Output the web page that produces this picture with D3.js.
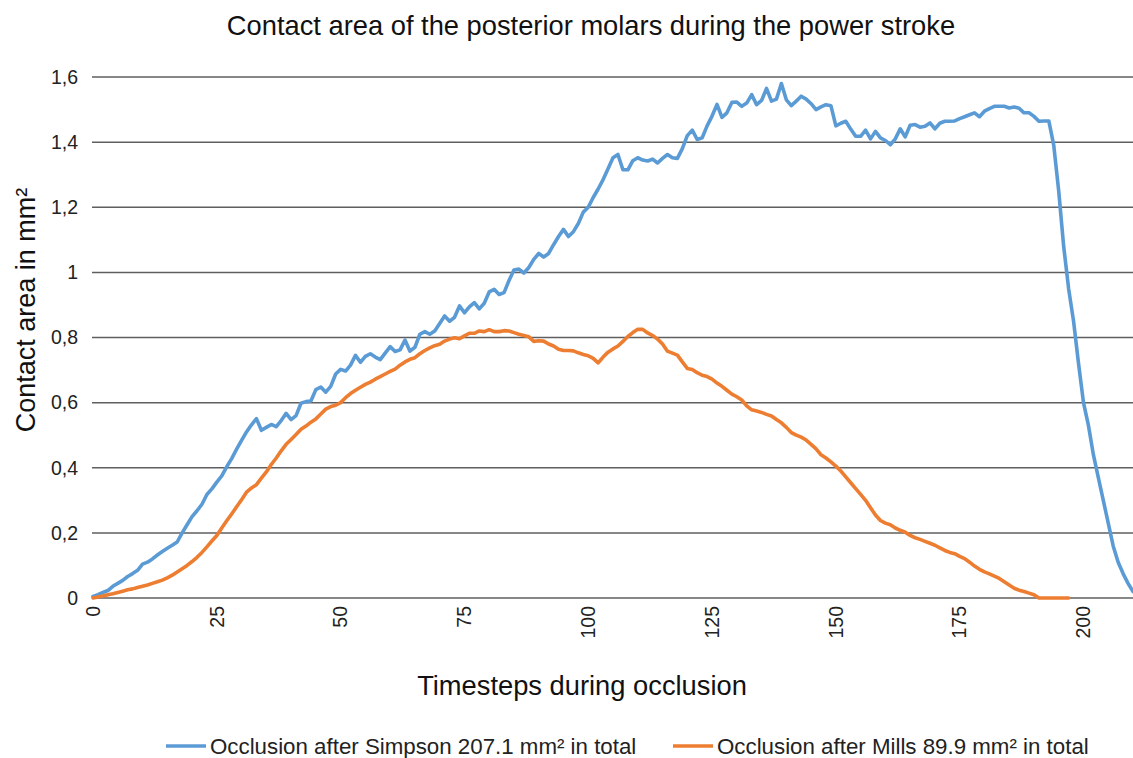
<!DOCTYPE html>
<html>
<head>
<meta charset="utf-8">
<script src="https://cdn.jsdelivr.net/npm/d3@7"></script>
<style>
  html, body { margin: 0; padding: 0; background: #fff; }
  svg { display: block; font-family: "Liberation Sans", Arial, sans-serif; }
</style>
</head>
<body>
<svg id="chart" width="1133" height="758"></svg>
<script>
const title = "Contact area of the posterior molars during the power stroke";
const yTitle = "Contact area in mm²";
const xTitle = "Timesteps during occlusion";
const seriesNames = ["Occlusion after Simpson 207.1 mm² in total", "Occlusion after Mills 89.9 mm² in total"];
const yTicks = [0, 0.2, 0.4, 0.6, 0.8, 1, 1.2, 1.4, 1.6];
const xTicks = [0, 25, 50, 75, 100, 125, 150, 175, 200];

const simpson = [
0.005,0.01,0.017,0.023,0.036,0.045,0.054,0.066,0.075,0.085,
0.104,0.11,0.12,0.132,0.143,0.153,0.162,0.172,0.2,0.225,
0.25,0.268,0.288,0.318,0.335,0.356,0.375,0.403,0.428,0.457,
0.484,0.51,0.532,0.551,0.515,0.524,0.533,0.526,0.545,0.567,
0.548,0.56,0.598,0.603,0.605,0.64,0.648,0.632,0.65,0.688,
0.702,0.697,0.715,0.745,0.724,0.742,0.75,0.74,0.732,0.752,
0.772,0.757,0.762,0.792,0.758,0.77,0.81,0.818,0.81,0.82,
0.843,0.866,0.85,0.862,0.897,0.876,0.894,0.907,0.888,0.905,
0.94,0.948,0.932,0.938,0.975,1.007,1.01,0.998,1.015,1.04,
1.058,1.047,1.058,1.085,1.11,1.132,1.11,1.125,1.15,1.185,
1.2,1.23,1.256,1.285,1.318,1.352,1.362,1.315,1.315,1.343,
1.352,1.345,1.342,1.348,1.336,1.35,1.362,1.352,1.35,1.38,
1.42,1.437,1.408,1.413,1.45,1.48,1.516,1.476,1.49,1.522,
1.523,1.51,1.52,1.546,1.515,1.528,1.565,1.526,1.532,1.58,
1.53,1.512,1.526,1.541,1.532,1.518,1.5,1.508,1.515,1.512,
1.45,1.458,1.464,1.44,1.418,1.418,1.437,1.41,1.433,1.413,
1.405,1.392,1.41,1.441,1.416,1.452,1.454,1.446,1.449,1.459,
1.441,1.458,1.464,1.464,1.465,1.472,1.478,1.484,1.49,1.478,
1.495,1.503,1.51,1.51,1.51,1.505,1.508,1.504,1.49,1.49,
1.479,1.464,1.465,1.465,1.39,1.25,1.08,0.95,0.85,0.72,
0.6,0.53,0.44,0.37,0.3,0.23,0.16,0.11,0.075,0.045,
0.02
];

const mills = [
0,0.003,0.006,0.01,0.013,0.017,0.021,0.025,0.028,0.032,
0.036,0.04,0.045,0.05,0.055,0.062,0.07,0.08,0.09,0.1,
0.112,0.125,0.14,0.157,0.175,0.192,0.215,0.237,0.258,0.28,
0.302,0.325,0.338,0.348,0.368,0.387,0.41,0.43,0.452,0.472,
0.487,0.502,0.518,0.528,0.54,0.55,0.565,0.58,0.588,0.592,
0.6,0.615,0.628,0.638,0.647,0.656,0.663,0.672,0.68,0.688,
0.696,0.703,0.715,0.725,0.733,0.738,0.75,0.76,0.768,0.775,
0.779,0.789,0.795,0.799,0.796,0.805,0.813,0.813,0.82,0.818,
0.824,0.818,0.818,0.821,0.82,0.815,0.81,0.806,0.802,0.788,
0.79,0.789,0.78,0.774,0.764,0.76,0.76,0.759,0.753,0.748,
0.744,0.736,0.722,0.74,0.755,0.765,0.774,0.788,0.803,0.815,
0.825,0.825,0.814,0.806,0.795,0.78,0.758,0.752,0.746,0.725,
0.705,0.702,0.692,0.684,0.68,0.672,0.66,0.65,0.638,0.626,
0.618,0.608,0.59,0.578,0.574,0.57,0.564,0.559,0.548,0.538,
0.524,0.508,0.5,0.494,0.485,0.472,0.458,0.44,0.43,0.418,
0.405,0.39,0.372,0.354,0.336,0.318,0.3,0.277,0.255,0.238,
0.23,0.225,0.215,0.208,0.202,0.192,0.185,0.18,0.174,0.168,
0.162,0.154,0.146,0.14,0.136,0.128,0.121,0.11,0.098,0.088,
0.08,0.074,0.067,0.06,0.05,0.04,0.03,0.024,0.02,0.015,
0.01,0,0,0,0,0,0,0
];

const colors = ["#5B9BD5", "#ED7D31"];

const svg = d3.select("#chart");
const x = d3.scaleLinear().domain([0, 210]).range([93, 1133]);
const y = d3.scaleLinear().domain([0, 1.6]).range([598, 77]);

// gridlines
svg.append("g")
  .selectAll("line")
  .data(yTicks)
  .join("line")
  .attr("x1", 92).attr("x2", 1133)
  .attr("y1", d => y(d)).attr("y2", d => y(d))
  .attr("stroke", "#5f5f5f")
  .attr("stroke-width", 1.5);

// y axis labels
const fmt = d => d3.format(".1f")(d).replace(".", ",").replace(/,0$/, "");
svg.append("g")
  .selectAll("text")
  .data(yTicks)
  .join("text")
  .attr("x", 78)
  .attr("y", d => y(d))
  .attr("dy", "0.35em")
  .attr("text-anchor", "end")
  .attr("font-size", 19.5)
  .attr("fill", "#222")
  .text(d => d === 0 ? "0" : fmt(d));

// x axis labels (rotated)
svg.append("g")
  .selectAll("text")
  .data(xTicks)
  .join("text")
  .attr("transform", d => `translate(${x(d)},606) rotate(-90)`)
  .attr("dy", "0.35em")
  .attr("text-anchor", "end")
  .attr("font-size", 19.5)
  .attr("fill", "#222")
  .text(d => d);

// lines
const line = d3.line().x((d, i) => x(i)).y(d => y(d));
[simpson, mills].forEach((s, k) => {
  svg.append("path")
    .datum(s)
    .attr("d", line)
    .attr("fill", "none")
    .attr("stroke", colors[k])
    .attr("stroke-width", 3.6)
    .attr("stroke-linejoin", "round")
    .attr("stroke-linecap", "round");
});

// titles
svg.append("text")
  .attr("x", 591).attr("y", 35)
  .attr("text-anchor", "middle")
  .attr("font-size", 27.3)
  .attr("fill", "#111")
  .text(title);

svg.append("text")
  .attr("transform", "translate(35,310) rotate(-90)")
  .attr("text-anchor", "middle")
  .attr("font-size", 27)
  .attr("fill", "#111")
  .text(yTitle);

svg.append("text")
  .attr("x", 582).attr("y", 695)
  .attr("text-anchor", "middle")
  .attr("font-size", 27.3)
  .attr("fill", "#111")
  .text(xTitle);

// legend
const legendX = [166, 673];
const lg = svg.append("g");
seriesNames.forEach((name, k) => {
  lg.append("line")
    .attr("x1", legendX[k]).attr("x2", legendX[k] + 40)
    .attr("y1", 746).attr("y2", 746)
    .attr("stroke", colors[k])
    .attr("stroke-width", 3.6);
  lg.append("text")
    .attr("x", legendX[k] + 44).attr("y", 746)
    .attr("dy", "0.35em")
    .attr("font-size", 22.3)
    .attr("fill", "#222")
    .text(name);
});
</script>
</body>
</html>
